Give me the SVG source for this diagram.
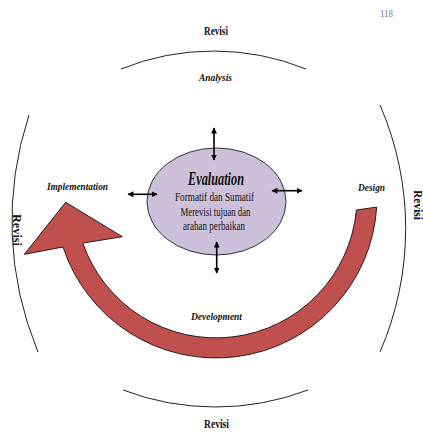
<svg xmlns="http://www.w3.org/2000/svg" width="423" height="432" viewBox="0 0 423 432">
<style>
.t{font-family:"Liberation Serif","DejaVu Serif",serif;fill:#111;text-anchor:middle}
.it{font-style:italic;font-weight:bold}
.arc{fill:none;stroke:#222;stroke-width:1}
.dbl{stroke:#000;stroke-width:1.6;marker-start:url(#ah);marker-end:url(#ah)}
</style>
<defs>
<marker id="ah" markerUnits="userSpaceOnUse" markerWidth="7" markerHeight="7" refX="5.5" refY="3" orient="auto-start-reverse">
<path d="M0,0 L6,3 L0,6 z" fill="#000"/>
</marker>
</defs>
<rect width="423" height="432" fill="#fff"/>
<text class="t" x="386.5" y="17" font-size="10" style="fill:#777" textLength="13" lengthAdjust="spacingAndGlyphs">118</text>

<g id="revisi-top">
<path class="arc" d="M121,69 A247,247 0 0 1 306,69"/>
<text class="t" x="216" y="35" font-size="12" font-weight="bold" textLength="24" lengthAdjust="spacingAndGlyphs">Revisi</text>
</g>
<g id="revisi-bottom">
<path class="arc" d="M123,390 A260,260 0 0 0 308,390"/>
<text class="t" x="216.5" y="428" font-size="12" font-weight="bold" textLength="25" lengthAdjust="spacingAndGlyphs">Revisi</text>
</g>
<g id="revisi-left">
<path class="arc" d="M29,115 A340,340 0 0 0 38,352"/>
<text class="t" transform="translate(12.5,230) rotate(90)" x="0" y="0" font-size="12" font-weight="bold" textLength="32" lengthAdjust="spacingAndGlyphs">Revisi</text>
</g>
<g id="revisi-right">
<path class="arc" d="M380,105 A310,310 0 0 1 380,352"/>
<text class="t" transform="translate(413.5,205) rotate(90)" x="0" y="0" font-size="12" font-weight="bold" textLength="30" lengthAdjust="spacingAndGlyphs">Revisi</text>
</g>

<g id="cycle-arrow">
<path d="M376.7,207.1 A161,161 0 0 1 63,247 L24.3,254.3 L65.7,202.3 L122.3,236.7 L82.8,243.1 A141,141 0 0 0 356.4,210 Z" fill="#C0504D" stroke="#2b1a1a" stroke-width="1" stroke-linejoin="miter"/>
</g>

<g id="evaluation">
<ellipse cx="216.5" cy="201.5" rx="69.5" ry="53.5" fill="#CCC0DA" stroke="#333" stroke-width="1"/>
<text class="t" x="216" y="185" font-size="18" font-style="italic" font-weight="bold" textLength="56" lengthAdjust="spacingAndGlyphs">Evaluation</text>
<text class="t" x="214.5" y="201" font-size="11.5" textLength="79" lengthAdjust="spacingAndGlyphs">Formatif dan Sumatif</text>
<text class="t" x="215.5" y="215.5" font-size="11.5" textLength="70" lengthAdjust="spacingAndGlyphs">Merevisi tujuan dan</text>
<text class="t" x="214" y="229.5" font-size="11.5" textLength="62" lengthAdjust="spacingAndGlyphs">arahan perbaikan</text>
</g>

<g id="analysis">
<text class="t it" x="215.5" y="81" font-size="11" textLength="33" lengthAdjust="spacingAndGlyphs">Analysis</text>
</g>
<g id="design">
<text class="t it" x="371.5" y="190.5" font-size="11" textLength="27" lengthAdjust="spacingAndGlyphs">Design</text>
</g>
<g id="development">
<text class="t it" x="216.5" y="320" font-size="11" textLength="51" lengthAdjust="spacingAndGlyphs">Development</text>
</g>
<g id="implementation">
<text class="t it" x="77.5" y="190" font-size="11" textLength="61" lengthAdjust="spacingAndGlyphs">Implementation</text>
</g>

<g id="connectors">
<line class="dbl" x1="214" y1="128" x2="214" y2="160"/>
<line class="dbl" x1="216.7" y1="242" x2="216.7" y2="273"/>
<line class="dbl" x1="128" y1="194.3" x2="157" y2="194.3"/>
<line class="dbl" x1="272" y1="190.7" x2="302" y2="190.7"/>
</g>
</svg>
